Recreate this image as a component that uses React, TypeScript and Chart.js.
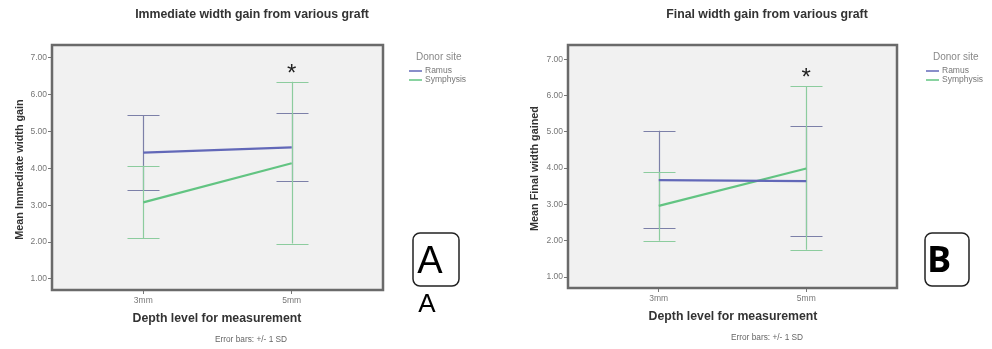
import React, { useEffect, useRef } from "react";
import { Chart, registerables } from "chart.js";
Chart.register(...registerables);

// ---------- data ----------
const depthLevels = ["3mm", "5mm"];
const yTickValues = [1, 2, 3, 4, 5, 6, 7];
const seriesNames = ["Ramus", "Symphysis"];
const significantIndex = 1; // "*" above 5mm

// Panel A: immediate width gain (mean, -1 SD, +1 SD)
const ramusMeanA = [4.43, 4.57];
const ramusLowA = [3.41, 3.67];
const ramusHighA = [5.44, 5.51];
const symphysisMeanA = [3.08, 4.14];
const symphysisLowA = [2.1, 1.96];
const symphysisHighA = [4.07, 6.35];

// Panel B: final width gained
const ramusMeanB = [3.67, 3.64];
const ramusLowB = [2.34, 2.12];
const ramusHighB = [5.03, 5.16];
const symphysisMeanB = [2.96, 3.99];
const symphysisLowB = [2.0, 1.75];
const symphysisHighB = [3.9, 6.25];

// ---------- styles ----------
const FONT = "'Liberation Sans', Arial, sans-serif";
const LINE_COLORS = ["#6268b8", "#62c482"];
const BAR_COLORS = ["#7c80a8", "#8ccc9e"];
const W = 496;
const H = 349;

type PanelCfg = {
  left: number;
  title: string;
  yTitle: string;
  means: number[][];
  lows: number[][];
  highs: number[][];
  area: { l: number; r: number; t: number; b: number };
  yMin: number;
  yMax: number;
  titleX: number;
  yTitleX: number;
  xTitleX: number;
  xTitleY: number;
  noteX: number;
  noteY: number;
  legendX: number;
  letter: string;
  letterBold: boolean;
  letterBox: { x: number; y: number; w: number; h: number };
  letterX: number;
  letterY: number;
  extraLetter: boolean;
};

const panels: PanelCfg[] = [
  {
    left: 0,
    title: "Immediate width gain from various graft",
    yTitle: "Mean Immediate width gain",
    means: [ramusMeanA, symphysisMeanA],
    lows: [ramusLowA, symphysisLowA],
    highs: [ramusHighA, symphysisHighA],
    area: { l: 52, r: 383, t: 45, b: 290 },
    yMin: 0.7,
    yMax: 7.35,
    titleX: 252,
    yTitleX: 20,
    xTitleX: 217,
    xTitleY: 319,
    noteX: 251,
    noteY: 340,
    legendX: 416,
    letter: "A",
    letterBold: false,
    letterBox: { x: 413, y: 233, w: 46, h: 53 },
    letterX: 430,
    letterY: 273,
    extraLetter: true,
  },
  {
    left: 496,
    title: "Final width gain from various graft",
    yTitle: "Mean Final width gained",
    means: [ramusMeanB, symphysisMeanB],
    lows: [ramusLowB, symphysisLowB],
    highs: [ramusHighB, symphysisHighB],
    area: { l: 72, r: 401, t: 45, b: 288 },
    yMin: 0.7,
    yMax: 7.39,
    titleX: 271,
    yTitleX: 39,
    xTitleX: 237,
    xTitleY: 317,
    noteX: 271,
    noteY: 338,
    legendX: 437,
    letter: "B",
    letterBold: true,
    letterBox: { x: 429, y: 233, w: 44, h: 53 },
    letterX: 443,
    letterY: 272,
    extraLetter: false,
  },
];

function makeConfig(p: PanelCfg): any {
  const xAxisH = 22;
  const decorPlugin = {
    id: "spssDecor",
    beforeDraw(chart: any) {
      const { ctx, chartArea: a } = chart;
      ctx.save();
      ctx.fillStyle = "#f1f1f1";
      ctx.fillRect(a.left, a.top, a.right - a.left, a.bottom - a.top);
      ctx.restore();
    },
    beforeDatasetsDraw(chart: any) {
      const { ctx } = chart;
      const xs = chart.scales.x;
      const ys = chart.scales.y;
      ctx.save();
      ctx.lineWidth = 1.2;
      chart.data.datasets.forEach((ds: any, si: number) => {
        ctx.strokeStyle = BAR_COLORS[si];
        ds.data.forEach((pt: any, i: number) => {
          const x = Math.round(xs.getPixelForValue(pt.x)) + 0.5;
          const yl = ys.getPixelForValue(ds.low[i]);
          const yh = ys.getPixelForValue(ds.high[i]);
          ctx.beginPath();
          ctx.moveTo(x, yl);
          ctx.lineTo(x, yh);
          ctx.moveTo(x - 16, Math.round(yl) + 0.5);
          ctx.lineTo(x + 16, Math.round(yl) + 0.5);
          ctx.moveTo(x - 16, Math.round(yh) + 0.5);
          ctx.lineTo(x + 16, Math.round(yh) + 0.5);
          ctx.stroke();
        });
      });
      ctx.restore();
    },
    afterDraw(chart: any) {
      const { ctx, chartArea: a } = chart;
      const xs = chart.scales.x;
      const ys = chart.scales.y;
      ctx.save();
      // plot frame
      ctx.strokeStyle = "#6a6a6a";
      ctx.lineWidth = 2.5;
      ctx.strokeRect(a.left, a.top, a.right - a.left, a.bottom - a.top);

      // title
      ctx.fillStyle = "#333";
      ctx.textAlign = "center";
      ctx.textBaseline = "middle";
      ctx.font = `bold 12.3px ${FONT}`;
      ctx.fillText(p.title, p.titleX, 15);

      // x title
      ctx.font = `bold 12.3px ${FONT}`;
      ctx.fillText("Depth level for measurement", p.xTitleX, p.xTitleY);

      // note
      ctx.fillStyle = "#666";
      ctx.font = `8.3px ${FONT}`;
      ctx.fillText("Error bars: +/- 1 SD", p.noteX, p.noteY);

      // y title
      ctx.save();
      ctx.translate(p.yTitleX, (a.top + a.bottom) / 2 + 2);
      ctx.rotate(-Math.PI / 2);
      ctx.fillStyle = "#333";
      ctx.font = `bold 10.8px ${FONT}`;
      ctx.fillText(p.yTitle, 0, 0);
      ctx.restore();

      // legend
      ctx.textAlign = "left";
      ctx.fillStyle = "#888";
      ctx.font = `10px ${FONT}`;
      ctx.fillText("Donor site", p.legendX, 57);
      ctx.font = `8.5px ${FONT}`;
      seriesNames.forEach((name, i) => {
        const y = 71 + i * 9;
        ctx.strokeStyle = LINE_COLORS[i];
        ctx.lineWidth = 1.5;
        ctx.beginPath();
        ctx.moveTo(p.legendX - 7, y);
        ctx.lineTo(p.legendX + 6, y);
        ctx.stroke();
        ctx.fillStyle = "#777";
        ctx.fillText(name, p.legendX + 9, y);
      });

      // significance asterisk
      const topVal = Math.max(...p.highs.map((h) => h[significantIndex]));
      const ax = xs.getPixelForValue(significantIndex);
      const ay = ys.getPixelForValue(topVal) - 15;
      ctx.fillStyle = "#222";
      ctx.textAlign = "center";
      ctx.textBaseline = "alphabetic";
      ctx.font = `24px ${FONT}`;
      ctx.fillText("*", ax, ay + 14);

      // boxed panel letter
      const b = p.letterBox;
      ctx.strokeStyle = "#222";
      ctx.lineWidth = 1.5;
      ctx.beginPath();
      (ctx as any).roundRect(b.x, b.y, b.w, b.h, 7);
      ctx.stroke();
      ctx.fillStyle = "#000";
      ctx.font = p.letterBold ? `bold 36px 'Open Sans', ${FONT}` : `38px ${FONT}`;
      ctx.fillText(p.letter, p.letterX, p.letterY);
      if (p.extraLetter) {
        ctx.font = `26px ${FONT}`;
        ctx.fillText(p.letter, 427, 312);
      }
      ctx.restore();
    },
  };

  return {
    type: "line",
    data: {
      datasets: seriesNames.map((name, si) => ({
        label: name,
        data: depthLevels.map((_, i) => ({ x: i, y: p.means[si][i] })),
        low: p.lows[si],
        high: p.highs[si],
        borderColor: LINE_COLORS[si],
        backgroundColor: LINE_COLORS[si],
        borderWidth: 2.2,
        pointRadius: 0,
        tension: 0,
      })),
    },
    options: {
      responsive: false,
      animation: false,
      devicePixelRatio: 1,
      layout: {
        padding: {
          left: 0,
          top: p.area.t,
          right: W - p.area.r,
          bottom: H - p.area.b - xAxisH,
        },
      },
      plugins: {
        legend: { display: false },
        title: { display: false },
        tooltip: { enabled: false },
      },
      scales: {
        x: {
          type: "linear",
          min: -0.615,
          max: 1.615,
          afterBuildTicks: (s: any) => {
            s.ticks = depthLevels.map((_, i) => ({ value: i }));
          },
          afterFit: (s: any) => {
            s.height = xAxisH;
          },
          ticks: {
            callback: (v: any) => depthLevels[v] ?? "",
            font: { family: FONT, size: 8.5 },
            color: "#777",
            padding: 2,
            maxRotation: 0,
          },
          grid: { drawOnChartArea: false, drawTicks: true, tickLength: 4, color: "#777" },
          border: { display: false },
        },
        y: {
          type: "linear",
          min: p.yMin,
          max: p.yMax,
          afterBuildTicks: (s: any) => {
            s.ticks = yTickValues.map((v) => ({ value: v }));
          },
          afterFit: (s: any) => {
            s.width = p.area.l;
          },
          ticks: {
            callback: (v: any) => Number(v).toFixed(2),
            font: { family: FONT, size: 8.5 },
            color: "#777",
            padding: 1,
          },
          grid: { drawOnChartArea: false, drawTicks: true, tickLength: 4, color: "#777" },
          border: { display: false },
        },
      },
    },
    plugins: [decorPlugin],
  };
}

function Panel({ cfg }: { cfg: PanelCfg }) {
  const ref = useRef<HTMLCanvasElement | null>(null);
  useEffect(() => {
    if (!ref.current) return;
    const chart = new Chart(ref.current, makeConfig(cfg));
    return () => chart.destroy();
  }, [cfg]);
  return (
    <canvas
      ref={ref}
      width={W}
      height={H}
      style={{ position: "absolute", left: cfg.left, top: 0, width: W, height: H }}
    />
  );
}

export default function App() {
  useEffect(() => {
    document.body.style.margin = "0";
    document.body.style.background = "#fff";
  }, []);
  return (
    <div style={{ position: "relative", width: 992, height: 349, background: "#fff", overflow: "hidden" }}>
      {panels.map((p, i) => (
        <Panel key={i} cfg={p} />
      ))}
    </div>
  );
}
